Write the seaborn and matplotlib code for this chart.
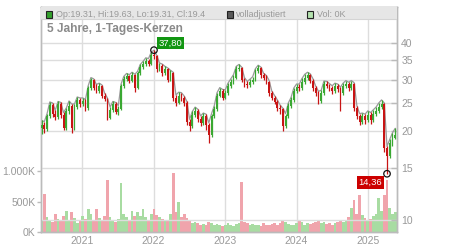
import numpy as np
import pandas as pd
import matplotlib
matplotlib.use("Agg")
import matplotlib.pyplot as plt
from matplotlib.patches import Rectangle
from matplotlib.ticker import NullLocator
import seaborn as sns

# ---------------- data (2-week candles) ----------------
start_date = "2020-06-08"
opens = [20.5, 21.0, 20.4, 22.5, 24.6, 23.0, 22.4, 24.8, 22.8, 20.6,
         23.5, 24.5, 20.5, 24.3, 25.5, 24.8, 25.3, 24.0, 28.0, 30.0,
         28.2, 27.5, 28.5, 26.5, 25.8, 22.3, 23.6, 24.8, 23.3, 23.9,
         28.5, 30.2, 30.8, 29.8, 31.0, 28.0, 31.5, 33.0, 33.8, 34.8,
         34.0, 36.5, 36.0, 32.5, 33.5, 31.5, 32.5, 30.0, 31.5, 26.0,
         25.0, 26.5, 26.0, 25.0, 21.5, 20.8, 22.8, 23.5, 22.0, 21.3,
         22.5, 21.0, 19.5, 22.5, 23.8, 26.5, 27.5, 26.0, 27.0, 28.5,
         29.5, 30.5, 32.5, 32.8, 30.0, 29.0, 28.8, 29.5, 30.0, 32.0,
         32.8, 31.0, 30.5, 29.5, 27.0, 26.0, 25.2, 24.0, 23.8, 20.8,
         22.5, 24.5, 25.5, 27.5, 28.3, 28.0, 29.5, 30.5, 31.0, 29.8,
         28.0, 27.0, 25.3, 27.0, 29.0, 28.5, 28.0, 27.5, 28.5, 27.8,
         27.0, 28.5, 29.0, 28.0, 29.0, 24.0, 22.5, 21.5, 22.5, 21.8,
         22.8, 21.8, 23.0, 23.5, 24.2, 24.8, 17.5, 16.5, 18.2, 19.0]
highs = [21.8, 21.6, 23.0, 25.2, 25.0, 23.6, 25.3, 25.1, 23.2, 24.0,
         25.4, 24.8, 24.8, 26.2, 26.0, 26.0, 25.7, 28.6, 30.5, 30.2,
         28.9, 29.2, 28.8, 27.0, 26.0, 24.2, 25.3, 25.1, 24.5, 29.0,
         30.8, 31.5, 31.2, 31.8, 31.3, 32.0, 33.8, 34.6, 35.6, 35.4,
         37.2, 37.8, 36.3, 34.2, 33.9, 33.3, 32.9, 32.3, 31.8, 26.6,
         27.2, 27.1, 26.4, 25.3, 22.0, 23.4, 24.2, 23.8, 22.6, 23.1,
         22.9, 21.4, 23.0, 24.5, 27.1, 28.2, 27.8, 27.7, 29.2, 30.2,
         31.2, 33.3, 33.8, 33.1, 30.5, 29.6, 30.1, 30.7, 32.7, 33.6,
         33.1, 31.5, 31.0, 29.8, 27.4, 26.5, 25.6, 24.6, 24.0, 23.0,
         25.0, 26.1, 28.1, 29.0, 29.0, 30.3, 31.3, 31.8, 31.4, 30.2,
         28.5, 27.4, 27.6, 29.7, 29.6, 29.1, 28.6, 29.2, 29.0, 28.3,
         29.2, 29.8, 29.4, 29.8, 29.3, 24.5, 23.0, 23.1, 22.9, 23.5,
         23.2, 23.7, 24.2, 25.0, 25.6, 25.0, 17.8, 18.8, 19.8, 20.5]
lows = [19.6, 19.8, 20.1, 22.2, 22.4, 21.8, 22.1, 22.3, 20.2, 20.3,
        23.0, 19.8, 20.2, 23.9, 24.2, 24.4, 23.5, 23.7, 27.6, 27.6,
        27.0, 27.1, 26.0, 25.3, 21.8, 22.0, 23.2, 22.9, 22.8, 23.6,
        28.1, 29.6, 29.2, 29.5, 27.2, 27.8, 31.1, 32.5, 33.3, 33.4,
        33.7, 35.2, 31.8, 32.0, 30.8, 31.0, 29.4, 29.6, 25.3, 24.5,
        24.7, 25.4, 24.5, 21.0, 20.0, 20.5, 22.4, 21.5, 20.8, 21.0,
        20.3, 18.2, 19.2, 22.2, 23.5, 26.1, 25.5, 25.7, 26.7, 28.1,
        29.1, 30.2, 32.0, 29.4, 28.4, 28.2, 28.4, 29.1, 29.7, 31.6,
        30.5, 30.0, 29.0, 26.4, 25.5, 24.7, 23.4, 23.0, 20.0, 20.5,
        22.2, 24.1, 25.2, 27.1, 27.4, 27.7, 29.1, 30.0, 29.2, 27.4,
        26.4, 24.8, 25.0, 26.7, 28.0, 27.4, 26.9, 27.1, 27.2, 23.5,
        26.7, 28.1, 27.5, 27.7, 23.5, 22.0, 21.0, 21.2, 21.2, 21.5,
        21.2, 21.5, 22.6, 23.1, 23.8, 17.0, 14.36, 16.2, 17.8, 18.8]
closes = [21.0, 20.4, 22.5, 24.6, 23.0, 22.4, 24.8, 22.8, 20.6, 23.5,
          24.5, 20.5, 24.3, 25.5, 24.8, 25.3, 24.0, 28.0, 30.0, 28.2,
          27.5, 28.5, 26.5, 25.8, 22.3, 23.6, 24.8, 23.3, 23.9, 28.5,
          30.2, 30.8, 29.8, 31.0, 28.0, 31.5, 33.0, 33.8, 34.8, 34.0,
          36.5, 36.0, 32.5, 33.5, 31.5, 32.5, 30.0, 31.5, 26.0, 25.0,
          26.5, 26.0, 25.0, 21.5, 20.8, 22.8, 23.5, 22.0, 21.3, 22.5,
          21.0, 19.5, 22.5, 23.8, 26.5, 27.5, 26.0, 27.0, 28.5, 29.5,
          30.5, 32.5, 32.8, 30.0, 29.0, 28.8, 29.5, 30.0, 32.0, 32.8,
          31.0, 30.5, 29.5, 27.0, 26.0, 25.2, 24.0, 23.8, 20.8, 22.5,
          24.5, 25.5, 27.5, 28.3, 28.0, 29.5, 30.5, 31.0, 29.8, 28.0,
          27.0, 25.3, 27.0, 29.0, 28.5, 28.0, 27.5, 28.5, 27.8, 27.0,
          28.5, 29.0, 28.0, 29.0, 24.0, 22.5, 21.5, 22.5, 21.8, 22.8,
          21.8, 23.0, 23.5, 24.2, 24.8, 17.5, 16.5, 18.2, 19.0, 19.4]
volumes_k = [180, 620, 250, 200, 160, 300, 220, 180, 260, 350,
             200, 330, 230, 150, 200, 260, 220, 380, 300, 190,
             370, 230, 180, 260, 860, 240, 200, 170, 220, 800,
             300, 240, 200, 350, 270, 330, 260, 380, 240, 200,
             300, 380, 280, 240, 210, 180, 200, 300, 960, 330,
             490, 250, 300, 230, 180, 150, 160, 140, 120, 130,
             110, 160, 140, 120, 130, 110, 100, 120, 150, 110,
             100, 130, 150, 820, 170, 140, 120, 130, 110, 120,
             100, 140, 120, 110, 130, 150, 120, 140, 200, 160,
             130, 110, 120, 150, 180, 170, 120, 140, 130, 150,
             160, 200, 140, 170, 130, 150, 120, 140, 160, 200,
             170, 190, 250, 400, 525, 300, 610, 280, 230, 200,
             220, 260, 300, 557, 350, 600, 850, 400, 300, 330]

price_ticks = [10, 15, 20, 25, 30, 35, 40]
volume_ticks_k = [0, 500, 1000]
volume_tick_labels = ["0K", "500K", "1.000K"]
year_ticks = [2021, 2022, 2023, 2024, 2025]
hi_label = "37,80"
lo_label = "14,36"
legend_ohlc = "Op:19.31, Hi:19.63, Lo:19.31, Cl:19.4"
legend_adj = "volladjustiert"
legend_vol = "Vol: 0K"
title = "5 Jahre, 1-Tages-Kerzen"

# ---------------- styling ----------------
sns.set_theme(style="white")
plt.rcParams["font.family"] = ["Liberation Sans", "DejaVu Sans"]

RED = "#c81414"
GREEN = "#3aa832"
VRED = "#f0a4ac"
VGREEN = "#a8dca2"
GRID = "#dddddd"
SPINE = "#bbbbbb"
TXT = "#999999"

dates = pd.date_range(start_date, periods=len(closes), freq="14D")
o = np.array(opens); h = np.array(highs); l = np.array(lows); c = np.array(closes)
up = c >= o

W, H = 450, 250
fig = plt.figure(figsize=(4.5, 2.5), dpi=100)
fig.patch.set_facecolor("white")
axv = fig.add_axes([41 / W, 18 / H, 356 / W, 225 / H])
axp = axv.twinx()

# volume
axv.bar(dates, volumes_k, width=14, color=[VGREEN if u else VRED for u in up],
        linewidth=0, zorder=2)
axv.set_ylim(0, 3690)
axv.set_yticks(volume_ticks_k)
axv.set_yticklabels(volume_tick_labels)
axv.tick_params(axis="y", left=True, right=False, labelleft=True, labelright=False,
                direction="out", length=3, width=1, color=SPINE,
                labelcolor=TXT, labelsize=7.5, pad=1)
axv.set_xlim(pd.Timestamp("2020-06-05"), pd.Timestamp("2025-05-28"))
axv.set_xticks([pd.Timestamp(f"{y}-01-01") for y in year_ticks])
axv.set_xticklabels([str(y) for y in year_ticks])
axv.tick_params(axis="x", length=0, labelcolor=TXT, labelsize=7.5, pad=3)
axv.grid(axis="x", color=GRID, lw=1)
axv.grid(axis="y", visible=False)
axv.set_axisbelow(True)

# price
axp.set_yscale("log")
sns.lineplot(x=dates, y=h, ax=axp, color="#9a9a9a", lw=0.9, zorder=1)
axp.vlines(dates, l, h, colors=[GREEN if u else RED for u in up], lw=0.9, zorder=3)
axp.bar(dates, np.abs(c - o), bottom=np.minimum(o, c), width=9,
        color=[GREEN if u else RED for u in up], linewidth=0, zorder=4)
axp.set_ylim(9.1, 53.0)
axp.set_yticks(price_ticks)
axp.set_yticklabels([str(t) for t in price_ticks])
axp.yaxis.set_minor_locator(NullLocator())
axp.tick_params(axis="y", right=True, left=False, labelright=True, labelleft=False,
                direction="in", length=4, width=1, color=SPINE,
                labelcolor=TXT, labelsize=7.5, pad=3)
axp.grid(axis="y", color=GRID, lw=1)
axp.grid(axis="x", visible=False)
axp.set_xlim(pd.Timestamp("2020-06-05"), pd.Timestamp("2025-05-28"))

for ax in (axv, axp):
    for s in ax.spines.values():
        s.set_color(SPINE)
        s.set_linewidth(1)

# high / low markers and labels
ih = int(np.argmax(h)); il = int(np.argmin(l))
axp.scatter([dates[ih], dates[il]], [h[ih], l[il]], s=22, facecolors="none",
            edgecolors="#111111", linewidths=0.9, zorder=6)
axp.annotate(hi_label, xy=(dates[ih], h[ih]), xytext=(11.8, 5.2), textcoords="offset points",
             ha="center", va="center", color="white", fontsize=6.8, zorder=7,
             bbox=dict(boxstyle="square,pad=0.18", fc="#129612", ec="none"))
axp.annotate(lo_label, xy=(dates[il], l[il]), xytext=(-11.9, -6.3), textcoords="offset points",
             ha="center", va="center", color="white", fontsize=6.8, zorder=7,
             bbox=dict(boxstyle="square,pad=0.18", fc="#cc0000", ec="none"))

# header band
axp.add_patch(Rectangle((0, 1 - 12 / 225), 1, 12 / 225, transform=axp.transAxes,
                        fc="#e6e6e6", ec="none", zorder=8, clip_on=False))
axp.plot([0, 1], [1 - 12 / 225] * 2, transform=axp.transAxes, color="#d4d4d4",
         lw=0.8, zorder=8)

def fx(px):
    return px / W

def fy(py):
    return 1 - py / H

for bx, fc, txt, tx in [(46, "#33a02c", legend_ohlc, 56),
                         (226.7, "#5a5a5a", legend_adj, 235.7),
                         (306.7, "#b4e2ae", legend_vol, 316.7)]:
    fig.patches.append(Rectangle((fx(bx), fy(17.5)), 6 / W, 6.5 / H, transform=fig.transFigure,
                                 fc=fc, ec="#222222", lw=0.8, zorder=9))
    fig.text(fx(tx), fy(14.6), txt, ha="left", va="center", fontsize=6.5, color=TXT, zorder=10)

fig.text(fx(46.7), fy(29.3), title, ha="left", va="center", fontsize=8.6,
         fontweight="bold", color="#8a8a8a")

fig.savefig("out.png", dpi=100)
